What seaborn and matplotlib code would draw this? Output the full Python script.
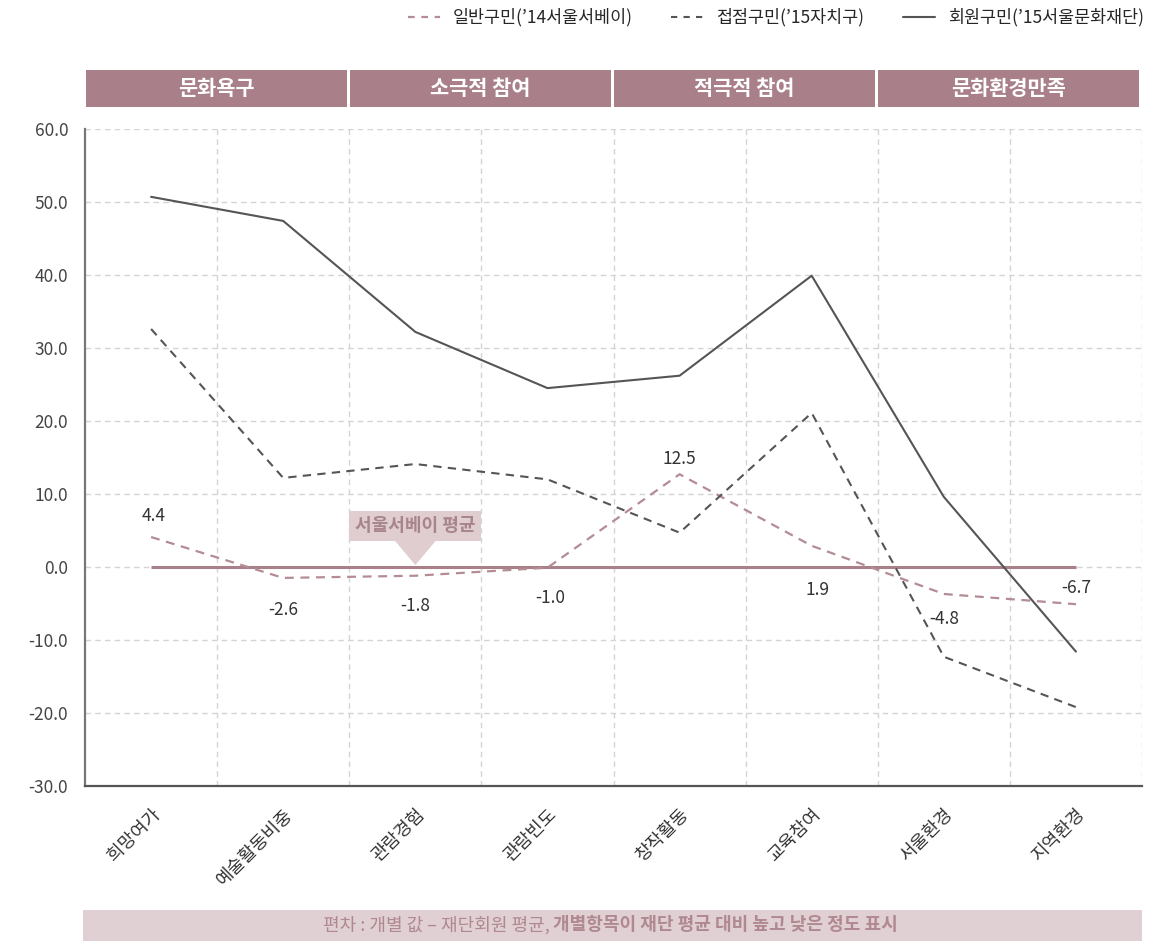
import numpy as np
import pandas as pd
import seaborn as sns
import matplotlib.pyplot as plt
import matplotlib.transforms as mtransforms
from matplotlib.patches import Polygon, Rectangle
from matplotlib.lines import Line2D

categories = ["희망여가", "예술활동비중", "관람경험", "관람빈도", "창작활동", "교육참여", "서울환경", "지역환경"]
groups = ["문화욕구", "소극적 참여", "적극적 참여", "문화환경만족"]

general = [4.1, -1.5, -1.2, -0.1, 12.7, 2.9, -3.7, -5.1]
contact = [32.6, 12.2, 14.1, 12.0, 4.7, 21.1, -12.3, -19.2]
member = [50.7, 47.4, 32.2, 24.5, 26.2, 39.9, 9.6, -11.6]
general_labels = ["4.4", "-2.6", "-1.8", "-1.0", "12.5", "1.9", "-4.8", "-6.7"]
baseline = 0.0

series_names = ["일반구민(’14서울서베이)", "접점구민(’15자치구)", "회원구민(’15서울문화재단)"]

# label offsets in points (dx, dy) relative to each point of the general line
label_offsets = [(2, 15), (0, -23), (0, -22), (2, -22), (0, 11), (4, -32), (0, -18), (0, 12)]

MAUVE = "#a98089"
PINK = "#b38c94"
DARK = "#555555"

sns.set_style("white")
plt.rcParams["font.family"] = ["Noto Sans CJK KR", "DejaVu Sans"]

fig = plt.figure(figsize=(11.76, 9.44), dpi=100)
ax = fig.add_axes([0.0723, 0.1674, 0.8988, 0.6960])

x = np.arange(len(categories))
df = pd.DataFrame({"x": x, "general": general, "contact": contact, "member": member})

ax.hlines(baseline, x[0], x[-1], color=MAUVE, lw=2.2, zorder=2)
sns.lineplot(data=df, x="x", y="general", ax=ax, color=PINK, lw=1.6,
             linestyle=(0, (4, 3)), zorder=3)
sns.lineplot(data=df, x="x", y="contact", ax=ax, color=DARK, lw=1.5,
             linestyle=(0, (4, 3)), zorder=3)
sns.lineplot(data=df, x="x", y="member", ax=ax, color=DARK, lw=1.5, zorder=3)

for xi, yi, lab, (dx, dy) in zip(x, general, general_labels, label_offsets):
    ax.annotate(lab, (xi, yi), xytext=(dx, dy), textcoords="offset points",
                ha="center", va="center", fontsize=12.5, color="#333333")

ax.set_xlim(-0.5, len(categories) - 0.5)
ax.set_ylim(-30, 60)
ax.set_yticks(np.arange(-30, 61, 10))
ax.set_yticklabels([f"{v:.1f}" for v in np.arange(-30, 61, 10)], fontsize=12.5, color="#444444")
ax.set_xticks(x)
ax.set_xticklabels(categories, rotation=45, ha="right", rotation_mode="anchor",
                   fontsize=13, color="#333333")
ax.set_xticks(np.arange(0.5, len(categories), 1), minor=True)
ax.tick_params(axis="both", which="both", length=0)
ax.tick_params(axis="x", pad=14)
ax.tick_params(axis="y", pad=12)
ax.set_xlabel("")
ax.set_ylabel("")
ax.grid(axis="y", which="major", color="#d4d4d4", lw=1, linestyle=(0, (4, 3)))
ax.grid(axis="x", which="minor", color="#d4d4d4", lw=1, linestyle=(0, (4, 3)))
ax.grid(axis="x", which="major", visible=False)
ax.set_axisbelow(True)
for s in ["top", "right"]:
    ax.spines[s].set_visible(False)
ax.spines["left"].set_color("#777777")
ax.spines["left"].set_linewidth(1.6)
ax.spines["bottom"].set_color("#555555")
ax.spines["bottom"].set_linewidth(1.6)

# callout "서울서베이 평균" pointing at the baseline over 관람경험 (triangle in pixels)
anchor_disp = ax.transData.transform((2, baseline))
tri = Polygon([(-22, 28), (22, 28), (0, 2)], closed=True, facecolor="#dfcdd0",
              edgecolor="none", zorder=4,
              transform=mtransforms.Affine2D().translate(*anchor_disp))
fig.patches.append(tri)
ax.annotate("서울서베이 평균", (2, baseline), xytext=(0, 29.5), textcoords="offset points",
            ha="center", va="center", fontsize=13, fontweight="bold", color="#a8848b",
            bbox=dict(boxstyle="square,pad=0.32", facecolor="#dfcdd0", edgecolor="none"),
            zorder=5)

# header bands
hax = fig.add_axes([0.0706, 0.8867, 0.9005, 0.0392])
gap = 0.025
hax.bar([0.5, 2.5, 4.5, 6.5], [1] * 4, width=2 - gap, bottom=0, color=MAUVE, edgecolor="none")
for c, g in zip([0.5, 2.5, 4.5, 6.5], groups):
    hax.text(c, 0.5, g, ha="center", va="center", color="white", fontsize=15, fontweight="bold")
hax.set_xlim(-0.5 - gap / 2, 7.5 + gap / 2)
hax.set_ylim(0, 1)
hax.axis("off")

# footer band
fig.patches.append(Rectangle((83 / 1176, 1 - 941 / 944), (1142 - 83) / 1176, 31 / 944,
                             transform=fig.transFigure, facecolor="#e0d0d3", edgecolor="none"))
fig.text(0.4705, 1 - 925 / 944, "편차 : 개별 값 – 재단회원 평균, ", ha="right", va="center",
         fontsize=13, color="#b08890")
fig.text(0.4705, 1 - 925 / 944, "개별항목이 재단 평균 대비 높고 낮은 정도 표시", ha="left", va="center",
         fontsize=13, color="#b08890", fontweight="bold")

handles = [Line2D([], [], color=PINK, lw=1.6, linestyle=(0, (3, 3))),
           Line2D([], [], color=DARK, lw=1.5, linestyle=(0, (3, 3))),
           Line2D([], [], color=DARK, lw=1.5)]
fig.legend(handles, series_names, loc="upper right", bbox_to_anchor=(0.986, 1.008), ncol=3,
           frameon=False, fontsize=12.5, handlelength=1.85, columnspacing=2.2, handletextpad=0.75)

fig.savefig("out.png", dpi=100)
